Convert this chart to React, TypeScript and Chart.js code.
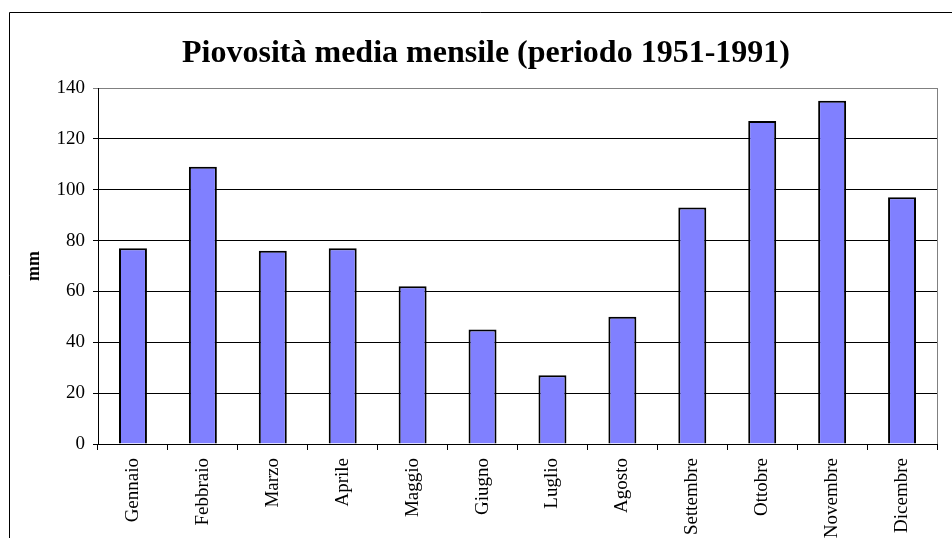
import React, { useEffect, useRef } from "react";
import { Chart, registerables } from "chart.js";

Chart.register(...registerables);

const months = [
  "Gennaio", "Febbraio", "Marzo", "Aprile", "Maggio", "Giugno",
  "Luglio", "Agosto", "Settembre", "Ottobre", "Novembre", "Dicembre",
];
const rainfall = [77, 109, 76, 77, 62, 45, 27, 50, 93, 127, 135, 97];
const titleText = "Piovosità media mensile (periodo 1951-1991)";
const yAxisTitle = "mm";
const yMin = 0;
const yMax = 140;
const yStep = 20;

const SERIF = "'Liberation Serif', 'Times New Roman', serif";

const framePlugin = {
  id: "frame",
  beforeDraw(chart: any) {
    const { ctx, width, height } = chart;
    ctx.save();
    ctx.fillStyle = "#fff";
    ctx.fillRect(0, 0, width, height);
    ctx.strokeStyle = "#000";
    ctx.lineWidth = 1;
    ctx.beginPath();
    ctx.moveTo(9.5, height);
    ctx.lineTo(9.5, 12.5);
    ctx.lineTo(width, 12.5);
    ctx.stroke();
    // chart title
    ctx.fillStyle = "#000";
    ctx.font = `bold 32px ${SERIF}`;
    ctx.textAlign = "center";
    ctx.textBaseline = "alphabetic";
    ctx.fillText(titleText, 486, 62);
    ctx.restore();
  },
  afterDatasetsDraw(chart: any) {
    const { ctx, chartArea } = chart;
    ctx.save();
    ctx.strokeStyle = "#808080";
    ctx.lineWidth = 1;
    ctx.beginPath();
    const x = Math.round(chartArea.right) + 0.5;
    ctx.moveTo(x, chartArea.top);
    ctx.lineTo(x, chartArea.bottom);
    ctx.stroke();
    ctx.restore();
  },
};

export default function App() {
  const ref = useRef<HTMLCanvasElement | null>(null);
  useEffect(() => {
    if (!ref.current) return;
    const chart = new Chart(ref.current, {
      type: "bar",
      data: {
        labels: months,
        datasets: [
          {
            data: rainfall,
            backgroundColor: "#8080FF",
            borderColor: "#000",
            borderWidth: 2,
            categoryPercentage: 1,
            barPercentage: 0.4,
          },
        ],
      },
      options: {
        responsive: false,
        animation: false,
        devicePixelRatio: 1,
        layout: { padding: { left: 9, top: 88, right: 15, bottom: 0 } },
        plugins: {
          legend: { display: false },
          tooltip: { enabled: false },
          title: { display: false },
        },
        scales: {
          x: {
            afterFit(scale: any) {
              scale.height = 94;
            },
            grid: {
              display: true,
              drawOnChartArea: false,
              drawTicks: true,
              tickLength: 6,
              color: "#000",
              offset: true,
            },
            border: { display: true, color: "#000", width: 1 },
            ticks: {
              color: "#000",
              font: { family: SERIF, size: 19 },
              minRotation: 90,
              maxRotation: 90,
              autoSkip: false,
              padding: 8,
            },
          },
          y: {
            min: yMin,
            max: yMax,
            afterFit(scale: any) {
              scale.width = 89;
            },
            grid: {
              color: (c: any) => (c.tick && c.tick.value === yMax ? "#808080" : "#000"),
              drawTicks: true,
              tickLength: 5,
              lineWidth: 1,
            },
            border: { display: true, color: "#000", width: 1 },
            ticks: {
              stepSize: yStep,
              color: "#000",
              font: { family: SERIF, size: 19 },
              padding: 8,
            },
            title: {
              display: true,
              text: yAxisTitle,
              color: "#000",
              font: { family: SERIF, size: 18, weight: "bold" },
              padding: { top: 15, bottom: 0 },
            },
          },
        },
      },
      plugins: [framePlugin],
    });
    return () => chart.destroy();
  }, []);
  return (
    <div style={{ position: "fixed", left: 0, top: 0, width: 952, height: 538, background: "#fff" }}>
      <canvas ref={ref} width={952} height={538} style={{ display: "block" }} />
    </div>
  );
}
